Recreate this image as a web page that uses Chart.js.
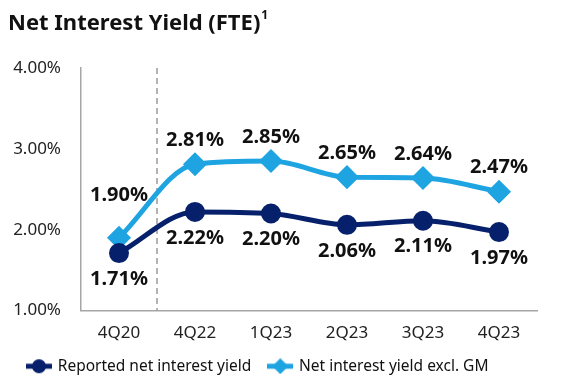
<!DOCTYPE html>
<html>
<head>
<meta charset="utf-8">
<script src="https://cdn.jsdelivr.net/npm/chart.js@4"></script>
<style>
  html, body { margin: 0; padding: 0; background: #fff; }
  #wrap { width: 566px; height: 386px; }
</style>
</head>
<body>
<div id="wrap"><canvas id="graphiqueNIY" width="566" height="386"></canvas></div>
<script>
var categories = ["4Q20", "4Q22", "1Q23", "2Q23", "3Q23", "4Q23"];
var reported = [1.71, 2.22, 2.20, 2.06, 2.11, 1.97];
var exclGM = [1.90, 2.81, 2.85, 2.65, 2.64, 2.47];
var seriesNames = ["Reported net interest yield", "Net interest yield excl. GM"];
var yTicks = [1, 2, 3, 4];

var navy = "#06206b";
var lightBlue = "#1fa4e2";
var fontFamily = "'Noto Sans', sans-serif";

// small canvases used as legend markers (line + symbol)
function legendMarker(color, shape) {
  var c = document.createElement("canvas");
  c.width = 26;
  c.height = 16;
  var ctx = c.getContext("2d");
  ctx.strokeStyle = color;
  ctx.fillStyle = color;
  ctx.lineWidth = 5;
  ctx.beginPath();
  ctx.moveTo(0, 8);
  ctx.lineTo(26, 8);
  ctx.stroke();
  ctx.beginPath();
  if (shape === "circle") {
    ctx.arc(13, 8, 7, 0, Math.PI * 2);
  } else {
    ctx.moveTo(13, 0);
    ctx.lineTo(21, 8);
    ctx.lineTo(13, 16);
    ctx.lineTo(5, 8);
    ctx.closePath();
  }
  ctx.fill();
  return c;
}

// title with superscript
var titrePlugin = {
  id: "titre",
  afterDraw: function(chart) {
    var ctx = chart.ctx;
    ctx.save();
    ctx.fillStyle = "#111";
    ctx.textBaseline = "alphabetic";
    ctx.font = "bold 22px " + fontFamily;
    var txt = "Net Interest Yield (FTE)";
    ctx.fillText(txt, 8, 30);
    var w = ctx.measureText(txt).width;
    ctx.font = "bold 12px " + fontFamily;
    ctx.fillText("1", 8 + w + 1, 19);
    ctx.restore();
  }
};

// dashed separator between 4Q20 and 4Q22
var separateurPlugin = {
  id: "separateur",
  beforeDatasetsDraw: function(chart) {
    var x = chart.scales.x;
    var area = chart.chartArea;
    var px = (x.getPixelForValue(0) + x.getPixelForValue(1)) / 2;
    var ctx = chart.ctx;
    ctx.save();
    ctx.strokeStyle = "#9a9a9a";
    ctx.lineWidth = 1.5;
    ctx.setLineDash([6, 4]);
    ctx.beginPath();
    ctx.moveTo(px, area.top);
    ctx.lineTo(px, area.bottom);
    ctx.stroke();
    ctx.restore();
  }
};

// value labels: excl. GM above, reported below
var etiquettesPlugin = {
  id: "etiquettes",
  afterDatasetsDraw: function(chart) {
    var ctx = chart.ctx;
    ctx.save();
    ctx.font = "bold 20px " + fontFamily;
    ctx.fillStyle = "#111";
    ctx.textAlign = "center";
    ctx.textBaseline = "middle";
    chart.data.datasets.forEach(function(ds, di) {
      var meta = chart.getDatasetMeta(di);
      meta.data.forEach(function(pt, i) {
        var dy;
        if (di === 1) {
          dy = i === 0 ? -42 : -24;
        } else {
          dy = 26;
        }
        ctx.fillText(ds.data[i].toFixed(2) + "%", pt.x, pt.y + dy);
      });
    });
    ctx.restore();
  }
};

var ctx = document.getElementById("graphiqueNIY").getContext("2d");
var chart = new Chart(ctx, {
  type: "line",
  data: {
    labels: categories,
    datasets: [
      {
        label: seriesNames[0],
        data: reported,
        borderColor: navy,
        backgroundColor: navy,
        borderWidth: 5,
        pointStyle: "circle",
        pointRadius: 7.5,
        pointHoverRadius: 7.5,
        cubicInterpolationMode: "monotone",
        markerCanvas: legendMarker(navy, "circle")
      },
      {
        label: seriesNames[1],
        data: exclGM,
        borderColor: lightBlue,
        backgroundColor: lightBlue,
        borderWidth: 5,
        pointStyle: "rectRot",
        pointRadius: 8.5,
        pointHoverRadius: 8.5,
        cubicInterpolationMode: "monotone",
        markerCanvas: legendMarker(lightBlue, "diamond")
      }
    ]
  },
  options: {
    responsive: false,
    animation: false,
    layout: { padding: { top: 68, left: 10, right: 29, bottom: 2 } },
    plugins: {
      title: { display: false },
      tooltip: { enabled: false },
      legend: {
        position: "bottom",
        align: "start",
        labels: {
          usePointStyle: true,
          pointStyleWidth: 22,
          padding: 18,
          color: "#111",
          font: { family: fontFamily, size: 15.5 },
          generateLabels: function(chart) {
            return chart.data.datasets.map(function(ds, i) {
              return {
                text: ds.label,
                pointStyle: ds.markerCanvas,
                fillStyle: ds.borderColor,
                strokeStyle: ds.borderColor,
                lineWidth: 0,
                datasetIndex: i,
                fontColor: "#111"
              };
            });
          }
        }
      }
    },
    scales: {
      x: {
        offset: true,
        grid: { display: false, drawTicks: false, offset: true },
        border: { display: true, color: "#a6a6a6", width: 1.5 },
        ticks: {
          padding: 12,
          color: "#222",
          font: { family: fontFamily, size: 17 }
        },
        afterFit: function(scale) { scale.height = 30; }
      },
      y: {
        min: 1,
        max: 4,
        afterBuildTicks: function(scale) {
          scale.ticks = yTicks.map(function(v) { return { value: v }; });
        },
        grid: { display: false, drawTicks: false },
        border: { display: true, color: "#a6a6a6", width: 1.5 },
        ticks: {
          padding: 20,
          color: "#222",
          font: { family: fontFamily, size: 17 },
          callback: function(v) { return v.toFixed(2) + "%"; }
        },
        afterFit: function(scale) { scale.width = 71; }
      }
    }
  },
  plugins: [titrePlugin, separateurPlugin, etiquettesPlugin]
});
</script>
</body>
</html>
